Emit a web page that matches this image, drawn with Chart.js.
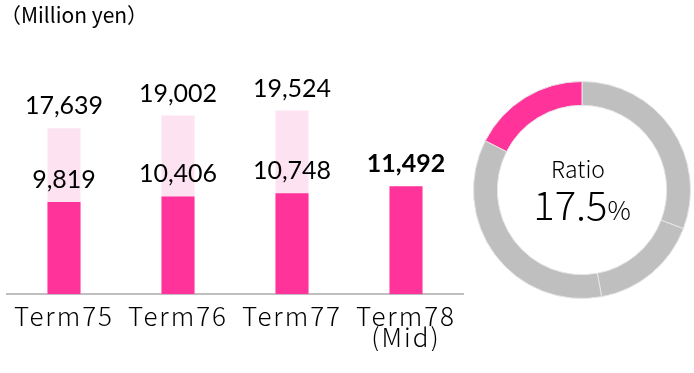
<!DOCTYPE html>
<html>
<head>
<meta charset="utf-8">
<script src="https://cdn.jsdelivr.net/npm/chart.js@4.4.1/dist/chart.umd.min.js"></script>
<style>
	body { margin: 0; background: #fff; }
	#wrap { position: relative; width: 694px; height: 373px; overflow: hidden; }
	#unit { position: absolute; left: 0; top: -1px; font-family: "Noto Sans CJK JP"; font-size: 21px; color: #000; }
	#bars { position: absolute; left: 0; top: 0; }
	#ratio { position: absolute; left: 470px; top: 78px; }
</style>
</head>
<body>
<div id="wrap">
	<canvas id="bars" width="470" height="373"></canvas>
	<canvas id="ratio" width="224" height="224"></canvas>
	<div id="unit">（Million yen）</div>
</div>
<script>
// chart data
const categories = [['Term75'], ['Term76'], ['Term77'], ['Term78', '(Mid)']];
const totalValues = [17639, 19002, 19524, null];
const segmentValues = [9819, 10406, 10748, 11492];
const ratioShares = [30.8, 16.3, 35.4, 17.5];
const ratioLabel = '17.5';

const pink = '#ff3399';
const lightPink = '#fde3f1';
const gray = '#bfbfbf';

// wider spacing for the axis labels only
const tickSpacing = {
	id: 'tickSpacing',
	beforeDraw: function (chart) {
		chart.ctx.letterSpacing = '2px';
	},
	beforeDatasetsDraw: function (chart) {
		chart.ctx.letterSpacing = '0px';
	}
};

// value labels above each bar
const valueLabels = {
	id: 'valueLabels',
	afterDatasetsDraw: function (chart) {
		var ctx = chart.ctx;
		ctx.save();
		ctx.letterSpacing = '0px';
		ctx.fillStyle = '#000';
		ctx.textAlign = 'center';
		ctx.textBaseline = 'alphabetic';
		chart.data.datasets.forEach(function (ds, i) {
			var meta = chart.getDatasetMeta(i);
			meta.data.forEach(function (bar, j) {
				var v = ds.data[j];
				if (v == null) return;
				var bold = (i === 0 && j === ds.data.length - 1);
				ctx.font = (bold ? 'bold ' : '') + '25px Lato';
				ctx.fillText(v.toLocaleString('en-US'), bar.x, bar.y - 14);
			});
		});
		ctx.restore();
	}
};

new Chart(document.getElementById('bars'), {
	type: 'bar',
	data: {
		labels: categories,
		datasets: [{
			data: segmentValues,
			backgroundColor: pink,
			order: 0
		}, {
			data: totalValues,
			backgroundColor: lightPink,
			order: 1
		}]
	},
	options: {
		responsive: false,
		animation: false,
		events: [],
		layout: { padding: { left: 7, right: 7, top: 12, bottom: 22 } },
		plugins: { legend: { display: false }, tooltip: { enabled: false } },
		datasets: { bar: { grouped: false, categoryPercentage: 1, barPercentage: 0.29 } },
		scales: {
			x: {
				grid: { display: false },
				border: { display: true, color: gray, width: 2 },
				ticks: {
					color: '#000',
					padding: 3,
					maxRotation: 0,
					autoSkip: false,
					font: { family: 'Noto Sans CJK JP', size: 26, weight: 300, lineHeight: 0.82 }
				}
			},
			y: { display: false, min: 0, max: 30000 }
		}
	},
	plugins: [tickSpacing, valueLabels]
});

// text in the middle of the ring
const centerText = {
	id: 'centerText',
	afterDraw: function (chart) {
		var ctx = chart.ctx;
		var a = chart.chartArea;
		var cx = (a.left + a.right) / 2;
		var cy = (a.top + a.bottom) / 2;
		ctx.save();
		ctx.fillStyle = '#000';
		ctx.textBaseline = 'alphabetic';
		ctx.textAlign = 'center';
		ctx.font = '300 23px "Noto Sans CJK JP"';
		ctx.fillText('Ratio', cx - 4, cy - 12);
		ctx.font = '300 40px "Noto Sans CJK JP"';
		var w1 = ctx.measureText(ratioLabel).width;
		ctx.font = '300 26px "Noto Sans CJK JP"';
		var w2 = ctx.measureText('%').width;
		var x0 = cx - (w1 + w2) / 2;
		ctx.textAlign = 'left';
		ctx.font = '300 40px "Noto Sans CJK JP"';
		ctx.fillText(ratioLabel, x0, cy + 30);
		ctx.font = '300 26px "Noto Sans CJK JP"';
		ctx.fillText('%', x0 + w1, cy + 30);
		ctx.restore();
	}
};

new Chart(document.getElementById('ratio'), {
	type: 'doughnut',
	data: {
		labels: ['a', 'b', 'c', 'Ratio'],
		datasets: [{
			data: ratioShares,
			backgroundColor: [gray, gray, gray, pink],
			borderColor: '#e6e6e6',
			borderWidth: 1
		}]
	},
	options: {
		responsive: false,
		animation: false,
		events: [],
		cutout: '78%',
		layout: { padding: 3 },
		plugins: { legend: { display: false }, tooltip: { enabled: false } }
	},
	plugins: [centerText]
});
</script>
</body>
</html>
